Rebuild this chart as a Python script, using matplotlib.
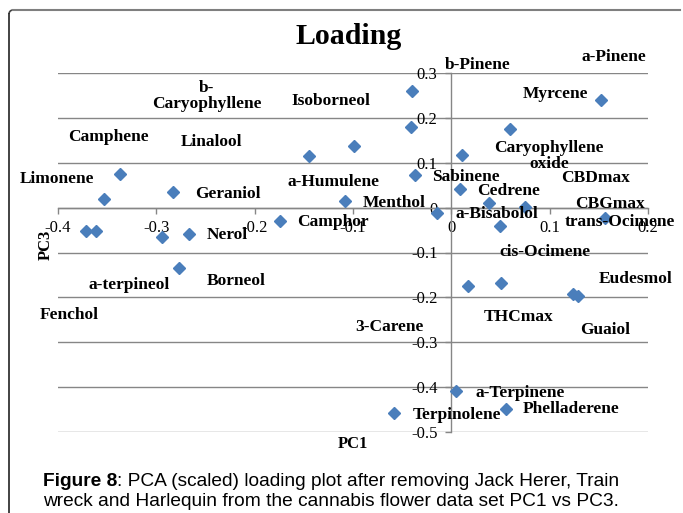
import matplotlib
matplotlib.use('Agg')
import matplotlib.pyplot as plt

# loadings PC1 vs PC3
names = ['a-Pinene', 'Myrcene', 'Caryophyllene\noxide', 'Sabinene', 'Cedrene',
         'CBDmax', 'a-Bisabolol', 'CBGmax', 'trans-Ocimene', 'b-Pinene',
         'Isoborneol', 'b-\nCaryophyllene', 'Linalool', 'a-Humulene', 'Menthol',
         'Camphor', 'Camphene', 'Limonene', 'Geraniol', 'Fenchol',
         'a-terpineol', 'Nerol', 'Borneol', '3-Carene', 'Terpinolene',
         'a-Terpinene', 'THCmax', 'cis-Ocimene', 'Eudesmol', 'Guaiol',
         'Phelladerene']
pc1 = [0.152, 0.060, 0.011, 0.009, 0.038,
       0.075, 0.049, 0.156, -0.015, -0.040,
       -0.041, -0.099, -0.145, -0.037, -0.108,
       -0.174, -0.337, -0.353, -0.283, -0.372,
       -0.361, -0.294, -0.267, -0.277, -0.058,
       0.005, 0.017, 0.050, 0.124, 0.129,
       0.056]
pc3 = [0.240, 0.176, 0.117, 0.042, 0.011,
       0.002, -0.042, -0.024, -0.011, 0.261,
       0.179, 0.137, 0.114, 0.072, 0.014,
       -0.029, 0.075, 0.019, 0.035, -0.051,
       -0.051, -0.066, -0.059, -0.134, -0.458,
       -0.408, -0.174, -0.168, -0.193, -0.196,
       -0.448]

# where the excel data labels ended up, pixels from the point (x right, y down)
label_off = [(13, -43), (45, -35), (87, 1), (6, -12), (20, -12),
             (70, -29), (-3, -12), (5, -14), (183, 9), (66, -26),
             (-80, -26), (-147, -50), (-97, -14), (-81, 7), (49, 2),
             (53, 1), (-12, -37), (-47, -20), (55, 2), (-16, 84),
             (33, 54), (65, -2), (47, 47), (210, 59), (63, 2),
             (64, 2), (51, 31), (44, -31), (62, -15), (27, 34),
             (65, 0)]

W, H = 683, 513
fig = plt.figure(figsize=(W / 100, H / 100), dpi=100)

serif = 'Liberation Serif'
grey = '#868686'

# chart border (left + top only visible)
fig.add_artist(plt.Line2D([9 / W, 9 / W], [0, 1 - 14 / H], transform=fig.transFigure,
                          color='#222222', lw=1.2))
fig.add_artist(plt.Line2D([13 / W, 680 / W], [1 - 10 / H, 1 - 10 / H],
                          transform=fig.transFigure, color='#7f7f7f', lw=1.5))
fig.add_artist(matplotlib.patches.Arc((13 / W, 1 - 14 / H), 8 / W, 8 / H, theta1=90,
                                      theta2=180, transform=fig.transFigure,
                                      color='#444444', lw=1.2))

ax = fig.add_axes([58 / W, 1 - 432 / H, (648 - 58) / W, (432 - 73) / H])
ax.set_xlim(-0.4, 0.2)
ax.set_ylim(-0.5, 0.3)

yt = [0.3, 0.2, 0.1, 0, -0.1, -0.2, -0.3, -0.4, -0.5]
xt = [-0.4, -0.3, -0.2, -0.1, 0, 0.1, 0.2]
for v in yt:
    ax.axhline(v, color=grey, lw=1.0, zorder=0)

ax.spines['left'].set_position(('data', 0))
ax.spines['bottom'].set_position(('data', 0))
ax.spines['top'].set_visible(False)
ax.spines['right'].set_visible(False)
for s in ('left', 'bottom'):
    ax.spines[s].set_color(grey)
    ax.spines[s].set_linewidth(1.0)

ax.set_xticks(xt)
ax.set_yticks(yt)
ax.set_xticklabels(['-0.4', '-0.3', '-0.2', '-0.1', '0', '0.1', '0.2'])
ax.set_yticklabels(['0.3', '0.2', '0.1', '0', '-0.1', '-0.2', '-0.3', '-0.4', '-0.5'])
ax.tick_params(axis='x', direction='out', length=4, width=1, color=grey, pad=5)
ax.tick_params(axis='y', direction='out', length=4, width=1, color=grey, pad=6)
for t in ax.get_xticklabels() + ax.get_yticklabels():
    t.set_fontfamily(serif)
    t.set_fontsize(12)

ax.plot(pc1, pc3, linestyle='none', marker='D', markersize=6.2,
        color='#4a7ebb', zorder=3)

for n, x, y, (dx, dy) in zip(names, pc1, pc3, label_off):
    ax.annotate(n, (x, y), xytext=(dx, -dy), textcoords='offset pixels',
                ha='center', va='center', fontfamily=serif, fontweight='bold',
                fontsize=12.5, linespacing=1.05, zorder=4)

fig.text(349 / W, 1 - 36 / H, 'Loading', ha='center', va='center',
         fontfamily=serif, fontweight='bold', fontsize=21.5)
fig.text(353 / W, 1 - 444 / H, 'PC1', ha='center', va='center',
         fontfamily=serif, fontweight='bold', fontsize=12)
fig.text(46 / W, 1 - 245 / H, 'PC3', ha='center', va='center', rotation=90,
         fontfamily=serif, fontweight='bold', fontsize=12)

# caption
sans = 'Liberation Sans'
cap_size = 13.8
t1 = fig.text(43 / W, 1 - 481 / H, 'Figure 8', ha='left', va='center',
              fontfamily=sans, fontweight='bold', fontsize=cap_size)
fig.canvas.draw()
bb = t1.get_window_extent(fig.canvas.get_renderer())
fig.text(bb.x1 / W, 1 - 481 / H,
         ': PCA (scaled) loading plot after removing Jack Herer, Train',
         ha='left', va='center', fontfamily=sans, fontsize=cap_size)
fig.text(43 / W, 1 - 501 / H,
         'wreck and Harlequin from the cannabis flower data set PC1 vs PC3.',
         ha='left', va='center', fontfamily=sans, fontsize=cap_size)

fig.savefig('out.png', dpi=100)
